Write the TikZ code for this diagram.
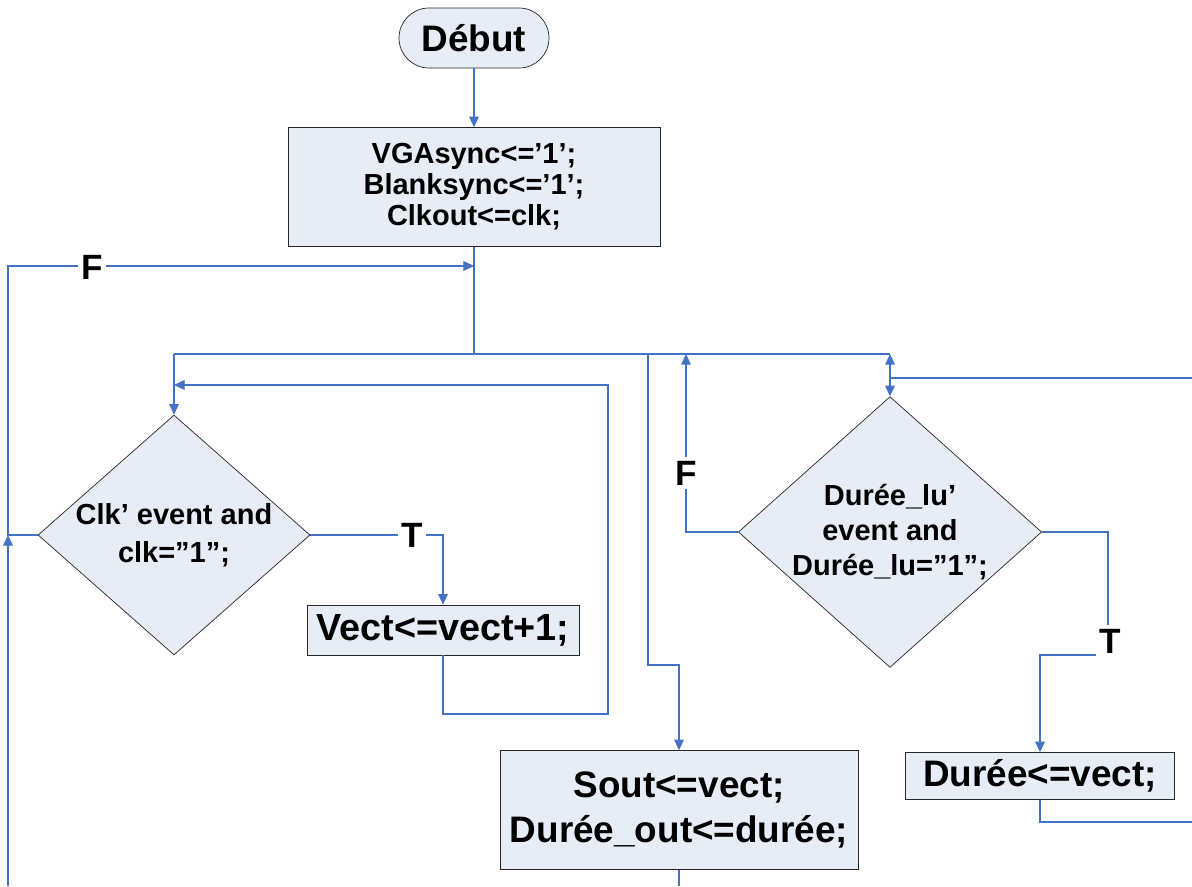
\documentclass[tikz,border=0pt]{standalone}
\usepackage{fontspec}
\setmainfont{Liberation Sans}
\usetikzlibrary{arrows.meta,shapes.geometric}
\definecolor{flowline}{HTML}{4472C4}
\definecolor{boxfill}{HTML}{E7EDF7}
\tikzset{>={Triangle[length=6pt,width=5.5pt]},line width=.6pt,
  every node/.style={font=\bfseries},
  line/.style={draw=flowline,line width=.6pt},
  flow/.style={line,->},
  startbox/.style={draw=black!85,fill=boxfill,rounded corners=17pt,minimum width=3cm,minimum height=1.2cm,inner sep=0pt},
  actbox/.style={draw=black!85,fill=boxfill,align=center,inner sep=0pt},
  testbox/.style={diamond,draw=black!85,fill=boxfill,align=center,inner sep=0pt,aspect=1.13}}
\tikzset{branch/.style={fill=white,inner sep=2pt,font=\bfseries\fontsize{20}{22}\selectfont}}

\begin{document}
\begin{tikzpicture}[x=.02cm,y=-.02cm]
\useasboundingbox (0,0) rectangle (1192,886);
\node[startbox,font=\bfseries\fontsize{21}{24}\selectfont] (debut) at (474,38) {Début};
\node[actbox,minimum width=7.44cm,minimum height=2.38cm,font=\bfseries\fontsize{16.5}{17.6}\selectfont] (init) at (474,187) {VGAsync<=’1’;\\Blanksync<=’1’;\\Clkout<=clk;};
\node[testbox,minimum width=5.44cm,minimum height=4.8cm,font=\bfseries\fontsize{16.5}{21.5}\selectfont] (clktest) at (174,535) {Clk’ event and\\clk=”1”;};
\node[actbox,minimum width=5.44cm,minimum height=1cm,font=\bfseries\fontsize{21.5}{24}\selectfont] (vectinc) at (443,630) {Vect<=vect+1;};
\node[testbox,aspect=1.12,minimum width=5.96cm,minimum height=5.3cm,font=\bfseries\fontsize{16.5}{20}\selectfont] (dureetest) at (890,532) {Durée\_lu’\\event and\\Durée\_lu=”1”;};
\node[actbox,minimum width=7.16cm,minimum height=2.38cm,font=\bfseries\fontsize{21}{25.5}\selectfont] (sortie) at (679,810) {Sout<=vect;\\Durée\_out<=durée;};
\node[actbox,minimum width=5.38cm,minimum height=.94cm,font=\bfseries\fontsize{21}{24}\selectfont] (dureeset) at (1040,776) {Durée<=vect;};

\coordinate (merge) at (474,266);
\coordinate (split) at (474,354);
\coordinate (loopL) at (8,535);
\coordinate (edgeB) at (8,886);
\coordinate (back) at (608,385);
\coordinate (edgeR1) at (1192,378);
\coordinate (edgeR2) at (1192,822);

\draw[flow] (debut) -- (init);
\draw[line] (init.south) -- (split);
\draw[line] (clktest.north |- split) -- (dureetest.north |- split);
\draw[flow] (clktest.north |- split) -- (clktest.north);
\draw[flow] (clktest.west) -- (loopL) |- (merge);
\draw[flow] (edgeB) -- (loopL);
\draw[flow] (clktest.east) -| (vectinc.north);
\draw[flow] (vectinc.south) |- (608,714) -- (back) -- (clktest.north |- back);
\draw[flow] (648,354) -- (648,665) -| (sortie.north);
\draw[line] (sortie.south) -- ++(0,16);
\draw[flow] (dureetest.west) -| (686,354);
\draw[line] (edgeR1) -- (dureetest.north |- edgeR1);
\draw[flow] (dureetest.north |- edgeR1) -- (dureetest.north);
\draw[flow] (dureetest.north |- edgeR1) -- (dureetest.north |- split);
\draw[flow] (dureetest.east) -| (1108,655) -| (dureeset.north);
\draw[line] (dureeset.south) |- (edgeR2);

\node[branch] (f1) at (92,267) {F};
\node[branch] (t1) at (412,535) {T};
\node[branch] (f2) at (686,473) {F};
\node[branch] (t2) at (1110,641) {T};
\end{tikzpicture}
\end{document}
